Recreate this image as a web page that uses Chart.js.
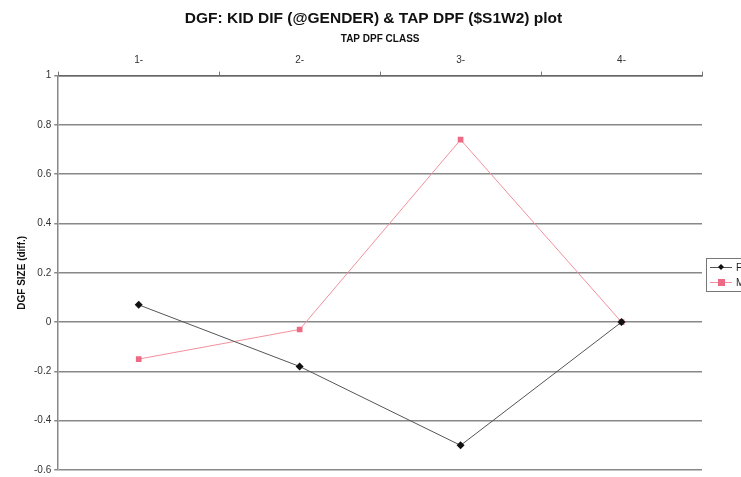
<!DOCTYPE html>
<html>
<head>
<meta charset="utf-8">
<script src="https://cdn.jsdelivr.net/npm/chart.js@4/dist/chart.umd.min.js"></script>
<style>
  html, body { margin: 0; padding: 0; background: #fff; overflow: hidden; }
  #wrap { width: 741px; height: 477px; position: relative; }
</style>
</head>
<body>
<div id="wrap"><canvas id="dgfChart" width="741" height="477"></canvas></div>
<script>
// ── DATA ─────────────────────────────────────────────
const classes  = ['1-', '2-', '3-', '4-'];
const seriesF  = [0.07, -0.18, -0.50, 0.00];
const seriesM  = [-0.15, -0.03, 0.74, 0.00];
const seriesNames = ['F', 'M'];

// ── LEGEND (boxed, partly off the right edge like the original) ──
const boxLegend = {
  id: 'boxLegend',
  afterDraw(chart) {
    const ctx = chart.ctx;
    const x = 706, y = 258, w = 60, h = 33;
    ctx.save();
    ctx.strokeStyle = '#777';
    ctx.lineWidth = 1;
    ctx.strokeRect(x + 0.5, y + 0.5, w, h);
    chart.data.datasets.forEach((ds, i) => {
      const ry = y + 9 + i * 15;
      ctx.strokeStyle = ds.borderColor;
      ctx.beginPath();
      ctx.moveTo(x + 4, ry + 0.5);
      ctx.lineTo(x + 26, ry + 0.5);
      ctx.stroke();
      ctx.fillStyle = ds.pointBackgroundColor;
      if (ds.pointStyle === 'rectRot') {
        ctx.beginPath();
        ctx.moveTo(x + 15, ry - 3);
        ctx.lineTo(x + 18, ry);
        ctx.lineTo(x + 15, ry + 3);
        ctx.lineTo(x + 12, ry);
        ctx.closePath();
        ctx.fill();
      } else {
        ctx.fillRect(x + 12, ry - 3, 7, 7);
      }
      ctx.fillStyle = '#222';
      ctx.font = '10px "Liberation Sans", Arial, sans-serif';
      ctx.textBaseline = 'middle';
      ctx.fillText(ds.label, x + 30, ry + 1);
    });
    ctx.restore();
  }
};

const font = '"Liberation Sans", Arial, sans-serif';

new Chart(document.getElementById('dgfChart'), {
  type: 'line',
  data: {
    labels: classes,
    datasets: [
      {
        label: seriesNames[0],
        data: seriesF,
        borderColor: '#555',
        borderWidth: 1,
        pointStyle: 'rectRot',
        pointRadius: 4,
        pointBackgroundColor: '#111',
        pointBorderWidth: 0,
        tension: 0
      },
      {
        label: seriesNames[1],
        data: seriesM,
        borderColor: '#f2909c',
        borderWidth: 1,
        pointStyle: 'rect',
        pointRadius: 4,
        pointBackgroundColor: '#ee6a84',
        pointBorderWidth: 0,
        tension: 0
      }
    ]
  },
  options: {
    responsive: false,
    animation: false,
    layout: { padding: { left: 6, right: 0, top: 7, bottom: 7 } },
    plugins: {
      legend: { display: false },
      tooltip: { enabled: false },
      title: {
        display: true,
        text: 'DGF: KID DIF (@GENDER) & TAP DPF ($S1W2) plot',
        color: '#111',
        font: { family: font, size: 15.5, weight: 'bold' },
        padding: { top: 2, bottom: 6 }
      }
    },
    scales: {
      x: {
        position: 'top',
        offset: true,
        grid: {
          offset: true,
          drawOnChartArea: false,
          drawTicks: true,
          tickLength: 4,
          color: '#777'
        },
        border: { display: true, color: '#666', width: 1.5 },
        ticks: { color: '#333', font: { family: font, size: 10 }, padding: 5 },
        title: {
          display: true,
          text: 'TAP DPF CLASS',
          color: '#111',
          font: { family: font, size: 10, weight: 'bold' },
          padding: { top: 0, bottom: 4 }
        }
      },
      y: {
        min: -0.6,
        max: 1,
        ticks: {
          stepSize: 0.2,
          color: '#333',
          font: { family: font, size: 10 },
          padding: 3,
          callback: v => Math.round(v * 10) / 10
        },
        grid: { color: '#888', lineWidth: 1.5, tickLength: 4 },
        border: { display: true, color: '#888', width: 1.5 },
        title: {
          display: true,
          text: 'DGF SIZE (diff.)',
          color: '#111',
          font: { family: font, size: 10, weight: 'bold' },
          padding: { top: 10, bottom: 3 }
        },
        // let the bottom gridline sit close to the edge like the original
        afterFit: s => { s.paddingBottom = 0; }
      },
      // empty axis on the right, only reserves room for the legend
      yRight: {
        position: 'right',
        display: true,
        grid: { display: false, drawTicks: false },
        border: { display: false },
        ticks: { display: false },
        afterFit: s => { s.width = 39; s.paddingBottom = 0; }
      }
    }
  },
  plugins: [boxLegend]
});
</script>
</body>
</html>
